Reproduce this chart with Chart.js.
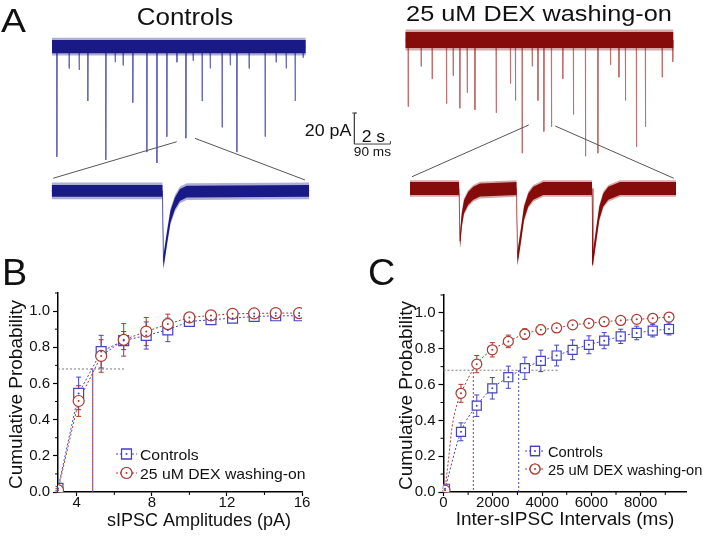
<!DOCTYPE html>
<html>
<head>
<meta charset="utf-8">
<title>sIPSC traces and cumulative probability</title>
<script src="https://cdn.jsdelivr.net/npm/chart.js@4.4.1/dist/chart.umd.min.js"></script>
<style>
  html, body { margin: 0; background: #fff; }
  #fig { position: relative; width: 704px; height: 536px; overflow: hidden; }
  #fig canvas { position: absolute; }
</style>
</head>
<body>
<div id="fig">
  <canvas id="traces" width="704" height="272" style="left:0;top:0"></canvas>
  <canvas id="amp" width="352" height="296" style="left:0;top:240px"></canvas>
  <canvas id="ivl" width="352" height="296" style="left:352px;top:240px"></canvas>
</div>
<script>
// ---------- panel A: continuous sweeps (time s, current pA) ----------
const ctlSweepEnd = 14.1;
const ctlEventT = [0.26, 0.94, 1.50, 1.98, 2.98, 3.50, 3.94, 4.48, 5.26, 5.82, 6.37, 6.93, 7.43,
                   7.83, 8.33, 8.78, 9.44, 9.89, 10.26, 10.94, 11.83, 12.44, 13.00, 13.50, 13.94];
const ctlEventA = [71, 14, 15, 35, 73, 10, 12, 36, 68, 75, 58, 10, 59,
                   9, 35, 14, 52, 12, 68, 14, 58, 10, 14, 35, 7];
const dexSweepEnd = 14.9;
const dexEventT = [0.15, 0.87, 1.48, 2.28, 2.65, 3.02, 3.43, 3.86, 5.04, 5.83, 6.11, 6.48, 7.04, 7.36,
                   7.69, 8.11, 8.74, 9.33, 10.00, 10.69, 11.39, 11.86, 12.22, 12.83, 13.33, 14.26, 14.85];
const dexEventA = [43, 17, 25, 41, 23, 44, 34, 45, 47, 28, 39, 73, 17, 39,
                   59, 56, 25, 48, 75, 73, 16, 24, 39, 69, 56, 24, 14];

// expanded stretches (time ms, current pA)
const ctlInsetT = [0, 44.3, 44.7, 46.2, 47.5, 49.3, 51.3, 54.0, 103];
const ctlInsetI = [0, 0, -46, -29.6, -16.7, -8.1, -2.7, -0.5, 0];
const dexInsetT = [0, 19.6, 20.0, 20.7, 21.6, 23.3, 25.3, 28.0, 42.6, 43.0, 44.3, 45.6, 47.3, 49.3, 53.3,
                   72.8, 73.2, 74.4, 75.7, 77.3, 79.3, 84.0, 106.4];
const dexInsetI = [0, 0, -34, -20.3, -11.7, -6.3, -3.1, -1, 0, -45, -31, -16, -7.4, -3.1, 0,
                   0, -45, -31, -16, -7.4, -3.1, 0, 0];

// where the zoom lines leave the sweep and meet the expanded trace
const ctlZoomTopT = [6.93, 7.94], ctlZoomTopI = [-61.3, -59.1];
const ctlZoomInsT = [0.6, 101.3], ctlZoomInsI = [8.1, 7.0];
const dexZoomTopT = [6.86, 8.33], dexZoomTopI = [-54.8, -55.5];
const dexZoomInsT = [0.8, 105.5], dexZoomInsI = [7.6, 6.6];

// scale bar (in sweep units of the control trace)
const barT = 16.8, barI = -62.8, barPA = 20, barS = 2;

// ---------- panel B: amplitudes ----------
const ampX = [3.0, 4.1, 5.3, 6.5, 7.7, 8.85, 10.0, 11.15, 12.3, 13.45, 14.6, 15.85];
const ampCtl = [0.02, 0.545, 0.776, 0.837, 0.865, 0.896, 0.943, 0.952, 0.961, 0.970, 0.974, 0.974];
const ampCtlErr = [0.01, 0.09, 0.09, 0.05, 0.075, 0.065, 0.028, 0.012, 0.012, 0.01, 0.01, 0.01];
const ampDex = [0.01, 0.503, 0.752, 0.841, 0.887, 0.928, 0.965, 0.976, 0.985, 0.987, 0.989, 0.989];
const ampDexErr = [0.01, 0.085, 0.09, 0.09, 0.078, 0.055, 0.02, 0.015, 0.012, 0.01, 0.01, 0.01];
const ampTicks = [4, 8, 12, 16];

// ---------- panel C: intervals ----------
const ivlX = [60, 710, 1350, 1980, 2630, 3300, 3950, 4590, 5240, 5900, 6520, 7190, 7840, 8490, 9150];
const ivlCtl = [0.018, 0.336, 0.482, 0.579, 0.641, 0.691, 0.732, 0.762, 0.794, 0.822, 0.845, 0.869, 0.888, 0.901, 0.910];
const ivlCtlErr = [0.01, 0.05, 0.06, 0.06, 0.062, 0.062, 0.06, 0.058, 0.055, 0.05, 0.045, 0.04, 0.038, 0.035, 0.033];
const ivlDex = [0.01, 0.551, 0.714, 0.794, 0.841, 0.882, 0.906, 0.916, 0.933, 0.942, 0.951, 0.958, 0.964, 0.970, 0.977];
const ivlDexErr = [0.01, 0.05, 0.048, 0.04, 0.035, 0.03, 0.028, 0.025, 0.022, 0.02, 0.018, 0.016, 0.015, 0.014, 0.012];
const ivlDexLeadX = [60, 210, 345, 550];
const ivlDexLeadY = [0.01, 0.19, 0.36, 0.49];
const ivlTicks = [0, 2000, 4000, 6000, 8000];

const probTicks = [0, 0.2, 0.4, 0.6, 0.8, 1.0];
const halfLevel = 0.68;

// ---------- styles ----------
const FONT = '"Liberation Sans", Arial, sans-serif';
Chart.defaults.font.family = FONT;
Chart.defaults.color = '#111';
const CTL_DARK = '#1b1b86', CTL_FUZZ = 'rgba(27,27,134,0.35)', CTL_SPIKE = '#6a6ac0';
const DEX_DARK = '#860b0b', DEX_FUZZ = 'rgba(134,11,11,0.35)', DEX_SPIKE = '#c27070';
const BLUE = '#4343c6', RED = '#a83a30', GREY = '#7a7a7a';

const pts = (xs, ys) => xs.map((x, i) => ({ x, y: ys[i] }));

function txt(ctx, s, x, y, size, align, sx, rot) {
  ctx.save();
  ctx.translate(x, y);
  if (rot) ctx.rotate(rot);
  ctx.scale(sx || 1, 1);
  ctx.font = size + 'px ' + FONT;
  ctx.textAlign = align;
  ctx.textBaseline = rot ? 'middle' : 'alphabetic';
  ctx.fillStyle = '#111';
  ctx.fillText(s, 0, 0);
  ctx.restore();
}

// ---------- panel A chart ----------
const A_W = 704, A_H = 272, PX_PER_PA = 1.55;
const boxes = {
  CtlTop: { x0: 52, y0: 46.7, px: 18 },
  DexTop: { x0: 405.3, y0: 40, px: 18 },
  CtlIns: { x0: 51.7, y0: 190.8, px: 2.5 },
  DexIns: { x0: 410, y0: 188.5, px: 2.5 }
};
const aScales = {};
Object.entries(boxes).forEach(([k, b]) => {
  aScales['x' + k] = { type: 'linear', display: false, min: -b.x0 / b.px, max: (A_W - b.x0) / b.px };
  aScales['y' + k] = { type: 'linear', display: false, min: -(A_H - b.y0) / PX_PER_PA, max: b.y0 / PX_PER_PA };
});

function sweep(times, amps, end) {
  const p = [{ x: 0, y: 0 }];
  times.forEach((t, i) => p.push({ x: t, y: 0 }, { x: t + 0.006, y: -amps[i] }, { x: t + 0.03, y: 0 }));
  p.push({ x: end, y: 0 });
  return p;
}
function band(k, sig, n, color) {
  const ax = { xAxisID: 'x' + k, yAxisID: 'y' + k, borderWidth: 0, pointRadius: 0 };
  return [
    { ...ax, data: sig.map(p => ({ x: p.x, y: p.y + n })), fill: '+1', backgroundColor: color },
    { ...ax, data: sig.map(p => ({ x: p.x, y: p.y - n })), fill: false }
  ];
}
function thin(k, sig, color) {
  return { xAxisID: 'x' + k, yAxisID: 'y' + k, data: sig, borderColor: color, borderWidth: 1, pointRadius: 0, fill: false };
}

const ctlFlat = [{ x: 0, y: 0 }, { x: ctlSweepEnd, y: 0 }];
const dexFlat = [{ x: 0, y: 0 }, { x: dexSweepEnd, y: 0 }];
const ctlIns = pts(ctlInsetT, ctlInsetI);
const dexIns = pts(dexInsetT, dexInsetI);

const panelA = {
  id: 'panelA',
  afterDraw(chart) {
    const { ctx, scales: s } = chart;
    const link = (from, to, fT, fI, tT, tI) => {
      for (let k = 0; k < 2; k++) {
        ctx.beginPath();
        ctx.moveTo(s['x' + from].getPixelForValue(fT[k]), s['y' + from].getPixelForValue(fI[k]));
        ctx.lineTo(s['x' + to].getPixelForValue(tT[k]), s['y' + to].getPixelForValue(tI[k]));
        ctx.stroke();
      }
    };
    ctx.save();
    ctx.strokeStyle = '#555';
    ctx.lineWidth = 1;
    link('CtlTop', 'CtlIns', ctlZoomTopT, ctlZoomTopI, ctlZoomInsT, ctlZoomInsI);
    link('DexTop', 'DexIns', dexZoomTopT, dexZoomTopI, dexZoomInsT, dexZoomInsI);
    ctx.restore();

    txt(ctx, 'A', 1, 32, 34, 'left', 1.1);
    txt(ctx, 'Controls', 185, 25, 24, 'center', 1.08);
    txt(ctx, '25 uM DEX washing-on', 539, 21, 22, 'center', 1.15);

    const bx = s.xCtlTop.getPixelForValue(barT);
    const by = s.yCtlTop.getPixelForValue(barI);
    const bx2 = s.xCtlTop.getPixelForValue(barT + barS);
    txt(ctx, '20 pA', bx - 3, by - 8, 17, 'right', 1.05);
    txt(ctx, '2 s', (bx + bx2) / 2 + 1, by - 2, 16, 'center', 1.1);
    txt(ctx, '90 ms', (bx + bx2) / 2, by + 12, 13, 'center', 1.05);
  }
};

new Chart(document.getElementById('traces'), {
  type: 'line',
  data: {
    datasets: [
      ...band('CtlTop', ctlFlat, 5.7, CTL_FUZZ),
      ...band('CtlTop', ctlFlat, 4.3, CTL_DARK),
      thin('CtlTop', sweep(ctlEventT, ctlEventA, ctlSweepEnd), CTL_SPIKE),
      ...band('DexTop', dexFlat, 6.8, DEX_FUZZ),
      ...band('DexTop', dexFlat, 5.2, DEX_DARK),
      thin('DexTop', sweep(dexEventT, dexEventA, dexSweepEnd), DEX_SPIKE),
      ...band('CtlIns', ctlIns, 5.4, CTL_FUZZ),
      ...band('CtlIns', ctlIns, 3.8, CTL_DARK),
      thin('CtlIns', ctlIns, CTL_SPIKE),
      ...band('DexIns', dexIns, 5.4, DEX_FUZZ),
      ...band('DexIns', dexIns, 4.2, DEX_DARK),
      thin('DexIns', dexIns, DEX_SPIKE),
      thin('CtlTop', [
        { x: barT - 0.12, y: barI + barPA }, { x: barT + 0.12, y: barI + barPA }, { x: barT, y: barI + barPA },
        { x: barT, y: barI }, { x: barT + barS, y: barI }, { x: barT + barS, y: barI + 2 }
      ], '#444')
    ]
  },
  options: {
    responsive: false,
    animation: false,
    layout: { padding: 0 },
    elements: { point: { radius: 0 }, line: { tension: 0 } },
    scales: aScales,
    plugins: { legend: { display: false }, tooltip: { enabled: false } }
  },
  plugins: [panelA]
});

// ---------- panels B and C ----------
function cdfChart(id, o) {
  const markers = (ys, style, r, color, order) => ({
    data: pts(o.x, ys), showLine: false, pointStyle: style, pointRadius: r, pointBorderWidth: 1.2,
    pointBorderColor: color, pointBackgroundColor: '#fff', order
  });
  const dots = (ys, color) => ({
    data: pts(o.x, ys), showLine: false, pointRadius: 1, pointBorderWidth: 0, pointBackgroundColor: color, order: 0
  });
  const line = (p, color) => ({
    data: p, borderColor: color, borderWidth: 1, borderDash: [2, 2], pointRadius: 0,
    cubicInterpolationMode: o.smooth ? 'monotone' : 'default', order: 5
  });
  const dexLine = o.leadX ? pts(o.leadX, o.leadY).concat(pts(o.x.slice(1), o.dex.slice(1))) : pts(o.x, o.dex);

  const deco = {
    id: 'deco' + id,
    beforeDatasetsDraw(chart) {
      const { ctx, scales: { x, y } } = chart;
      ctx.save();
      ctx.lineWidth = 1;
      // guide lines
      ctx.setLineDash([2, 2]);
      ctx.strokeStyle = GREY;
      ctx.beginPath();
      ctx.moveTo(x.getPixelForValue(x.min), y.getPixelForValue(halfLevel));
      ctx.lineTo(x.getPixelForValue(o.guideEnd), y.getPixelForValue(halfLevel));
      ctx.stroke();
      [[o.ctlHalf, BLUE, 0], [o.dexHalf, RED, 2]].forEach(([v, c, off]) => {
        ctx.strokeStyle = c;
        ctx.lineDashOffset = off;
        ctx.beginPath();
        ctx.moveTo(x.getPixelForValue(v), y.getPixelForValue(0));
        ctx.lineTo(x.getPixelForValue(v), y.getPixelForValue(halfLevel));
        ctx.stroke();
      });
      ctx.setLineDash([]);
      // error bars
      [[o.ctl, o.ctlErr, BLUE], [o.dex, o.dexErr, RED]].forEach(([ys, es, c]) => {
        ctx.strokeStyle = c;
        ctx.beginPath();
        o.x.forEach((v, i) => {
          const px = x.getPixelForValue(v);
          const lo = y.getPixelForValue(ys[i] - es[i]), hi = y.getPixelForValue(ys[i] + es[i]);
          ctx.moveTo(px, lo); ctx.lineTo(px, hi);
          ctx.moveTo(px - 2.5, lo); ctx.lineTo(px + 2.5, lo);
          ctx.moveTo(px - 2.5, hi); ctx.lineTo(px + 2.5, hi);
        });
        ctx.stroke();
      });
      ctx.restore();
    },
    afterDraw(chart) {
      const { ctx, chartArea: a, scales: { x, y } } = chart;
      // minor ticks half way between the major ones
      ctx.save();
      ctx.strokeStyle = '#000';
      ctx.lineWidth = 1;
      ctx.beginPath();
      for (let i = 0; i < o.xTicks.length; i++) {
        const m = i + 1 < o.xTicks.length ? (o.xTicks[i] + o.xTicks[i + 1]) / 2 : o.xTicks[i] + (o.xTicks[1] - o.xTicks[0]) / 2;
        if (m > x.max) continue;
        const px = x.getPixelForValue(m);
        ctx.moveTo(px, a.bottom); ctx.lineTo(px, a.bottom + 3);
      }
      for (let i = 0; i < probTicks.length; i++) {
        const m = probTicks[i] + 0.1;
        if (m > y.max) continue;
        const py = y.getPixelForValue(m);
        ctx.moveTo(a.left, py); ctx.lineTo(a.left - 3, py);
      }
      ctx.stroke();

      // legend
      [[o.leg.y1, 'Controls', 'rect', o.sq, BLUE], [o.leg.y2, '25 uM DEX washing-on', 'circle', o.ci, RED]].forEach(([ly, label, style, r, c]) => {
        ctx.strokeStyle = c;
        ctx.lineWidth = 1;
        ctx.setLineDash([2, 2]);
        ctx.beginPath(); ctx.moveTo(o.leg.x1, ly); ctx.lineTo(o.leg.x2, ly); ctx.stroke();
        ctx.setLineDash([]);
        ctx.fillStyle = '#fff';
        ctx.lineWidth = 1.2;
        Chart.helpers.drawPoint(ctx, { pointStyle: style, radius: r, borderWidth: 1.2 }, (o.leg.x1 + o.leg.x2) / 2, ly);
        ctx.fill(); ctx.stroke();
        ctx.fillStyle = c;
        ctx.beginPath(); ctx.arc((o.leg.x1 + o.leg.x2) / 2, ly, 1, 0, Math.PI * 2); ctx.fill();
        txt(ctx, label, o.leg.x2 + 3, ly + 5.5, o.leg.size, 'left', 1.05);
      });
      ctx.restore();

      txt(ctx, o.xTitle, o.xTitleX, o.xTitleY, o.titleSize, 'center', 1);
      txt(ctx, 'Cumulative Probability', o.yTitleX, (a.top + a.bottom) / 2 + 2, 19, 'center', 1, -Math.PI / 2);
      txt(ctx, o.letter, o.letterX, 45, 36, 'left', 1.05);
    }
  };

  return new Chart(document.getElementById(id), {
    type: 'line',
    data: {
      datasets: [
        line(pts(o.x, o.ctl), BLUE),
        line(dexLine, RED),
        markers(o.ctl, 'rect', o.sq, BLUE, 3),
        markers(o.dex, 'circle', o.ci, RED, 2),
        dots(o.ctl, BLUE),
        dots(o.dex, RED)
      ]
    },
    options: {
      responsive: false,
      animation: false,
      layout: { padding: { top: o.padTop, right: o.padRight, left: 0, bottom: 0 } },
      scales: {
        x: {
          type: 'linear', min: o.xMin, max: o.xMax,
          afterBuildTicks: s => { s.ticks = o.xTicks.map(v => ({ value: v })); },
          afterFit: s => { s.height = 44; },
          border: { color: '#000', width: 1.5 },
          grid: { drawOnChartArea: false, color: '#000', tickLength: 4, tickWidth: 1.2 },
          ticks: { font: { size: 15 }, color: '#111', padding: -2, maxRotation: 0, autoSkip: false, callback: v => String(v) }
        },
        y: {
          type: 'linear', min: 0, max: 1.1,
          afterBuildTicks: s => { s.ticks = probTicks.map(v => ({ value: v })); },
          afterFit: s => { s.width = o.yWidth; },
          border: { color: '#000', width: 1.5 },
          grid: { drawOnChartArea: false, color: '#000', tickLength: 5, tickWidth: 1.2 },
          ticks: { font: { size: 15 }, color: '#111', padding: 3, callback: v => v.toFixed(1) }
        }
      },
      plugins: { legend: { display: false }, tooltip: { enabled: false } }
    },
    plugins: [deco]
  });
}

cdfChart('amp', {
  x: ampX, ctl: ampCtl, ctlErr: ampCtlErr, dex: ampDex, dexErr: ampDexErr,
  xMin: 3, xMax: 16, xTicks: ampTicks, smooth: false,
  guideEnd: 6.6, ctlHalf: 4.85, dexHalf: 4.85,
  sq: 7, ci: 5.5,
  yWidth: 58, padTop: 53, padRight: 50,
  leg: { x1: 116, x2: 137, y1: 214, y2: 233, size: 15 },
  xTitle: 'sIPSC Amplitudes (pA)', xTitleX: 199, xTitleY: 286, titleSize: 18,
  yTitleX: 17, letter: 'B', letterX: 2
});

cdfChart('ivl', {
  x: ivlX, ctl: ivlCtl, ctlErr: ivlCtlErr, dex: ivlDex, dexErr: ivlDexErr,
  leadX: ivlDexLeadX, leadY: ivlDexLeadY,
  xMin: 0, xMax: 9840, xTicks: ivlTicks, smooth: true,
  guideEnd: 4645, ctlHalf: 3050, dexHalf: 1210,
  sq: 6.4, ci: 5,
  yWidth: 91.5, padTop: 55, padRight: 18,
  leg: { x1: 173, x2: 193, y1: 211, y2: 229, size: 14 },
  xTitle: 'Inter-sIPSC Intervals (ms)', xTitleX: 213, xTitleY: 285, titleSize: 19,
  yTitleX: 55, letter: 'C', letterX: 16
});
</script>
</body>
</html>
